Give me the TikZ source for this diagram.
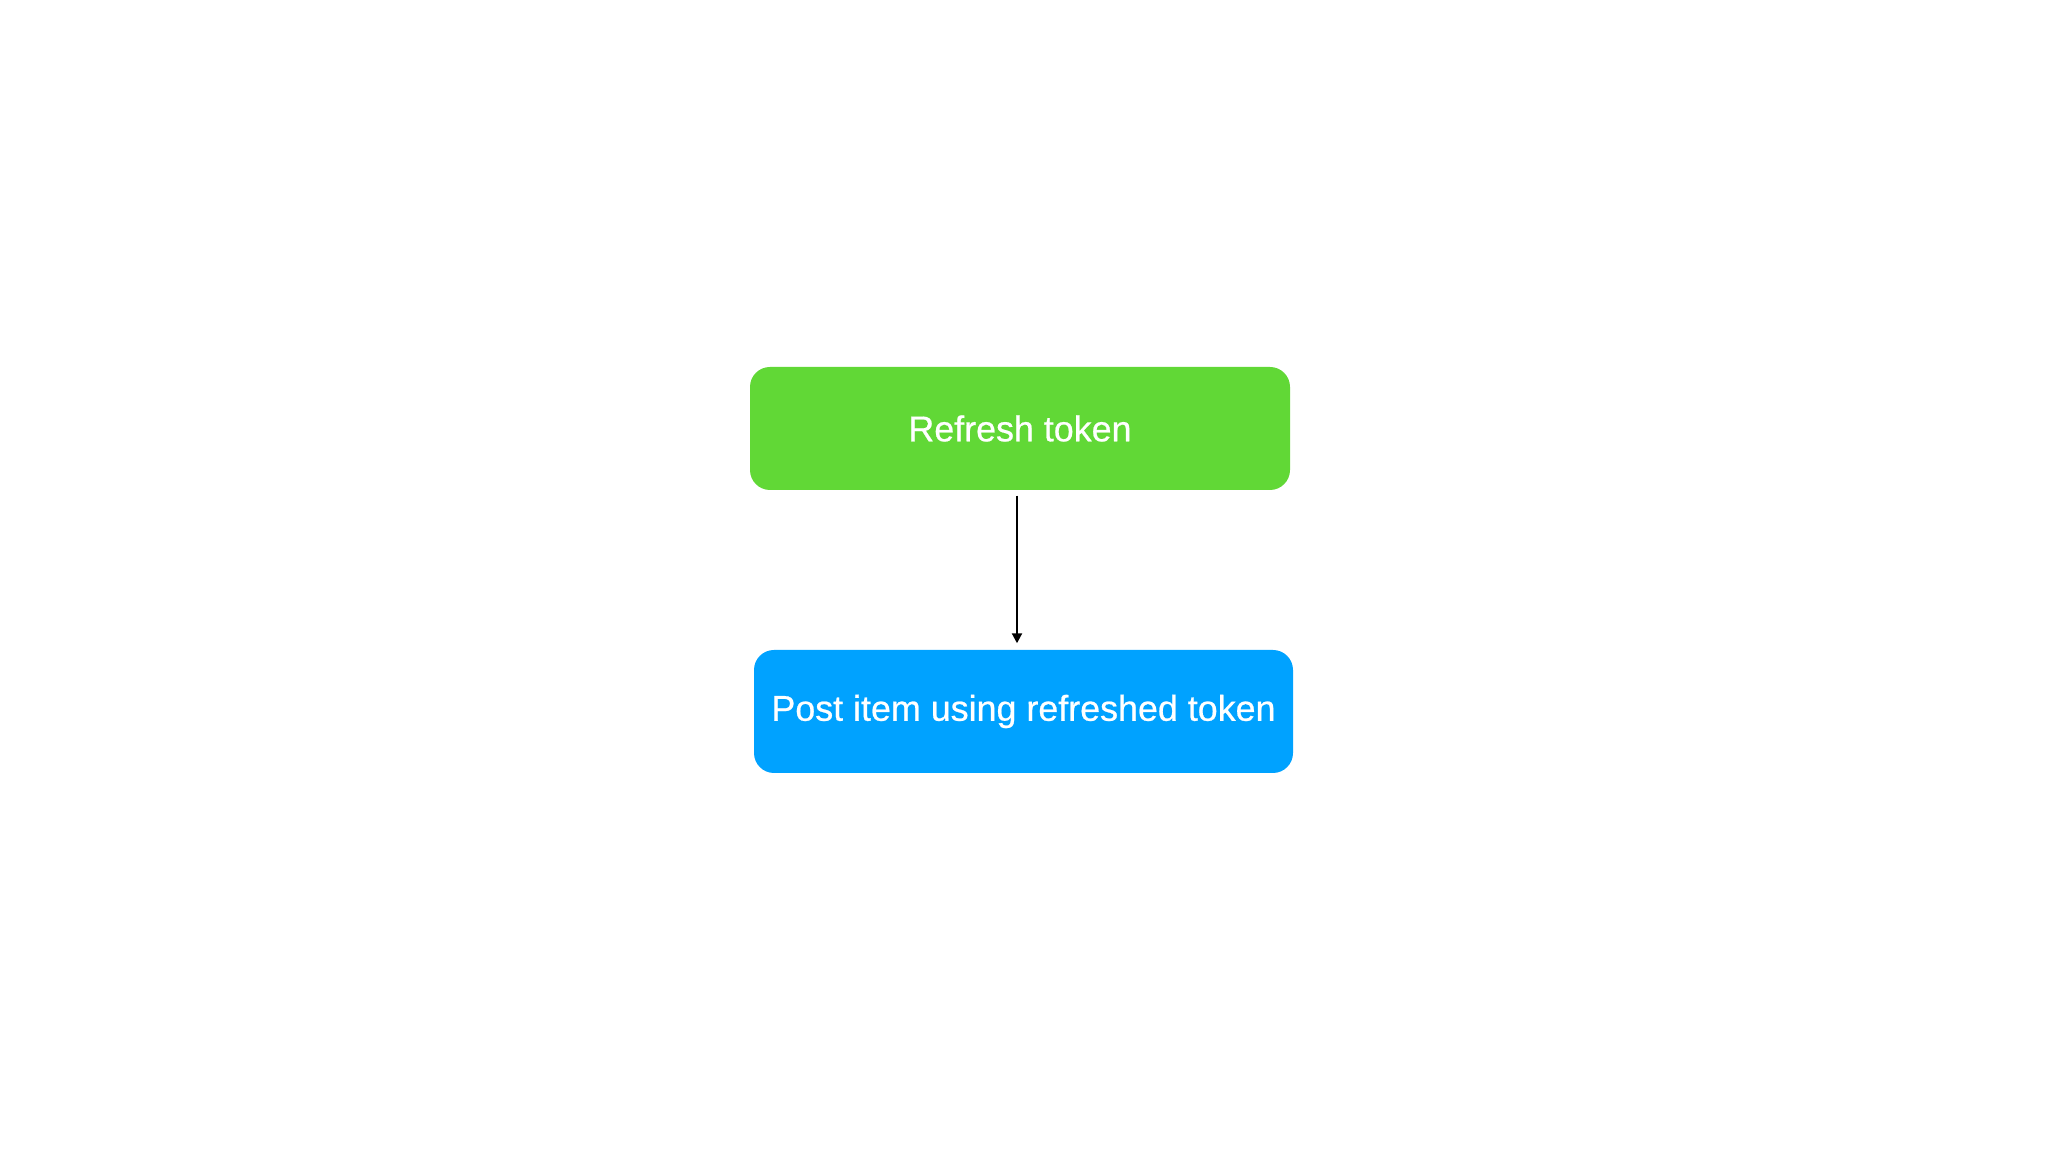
\documentclass[tikz,border=0pt]{standalone}
\usepackage{fontspec}
\setmainfont{Liberation Sans}
\newfontfamily\boxfont[FakeBold=0.6]{Liberation Sans}
\usetikzlibrary{arrows.meta}
\definecolor{okgreen}{RGB}{97,216,54}
\definecolor{okblue}{RGB}{0,162,255}
\begin{document}
\begin{tikzpicture}[
    box/.style={rounded corners=0.2cm, minimum width=5.4cm, minimum height=1.23cm,
        text=white, font=\boxfont\fontsize{10.2}{12}\selectfont, inner sep=0pt},
    flow/.style={-{Triangle[length=0.1cm,width=0.1cm]}, line width=0.6pt,
        shorten <=0.05cm, shorten >=0.06cm}]
    
    \useasboundingbox[fill=white] (0,0) rectangle (20.48,11.52);
    
    \node[box, fill=okgreen] (refresh) at (10.20,7.235) {Refresh token};
    \node[box, fill=okblue, minimum width=5.39cm] (post) at (10.235,4.405) {\raisebox{-0.04cm}{Post item using refreshed token}};
    
    \draw[flow] ([xshift=-0.03cm]refresh.south) -- ([xshift=-0.065cm]post.north);
    
    \end{tikzpicture}
\end{document}
